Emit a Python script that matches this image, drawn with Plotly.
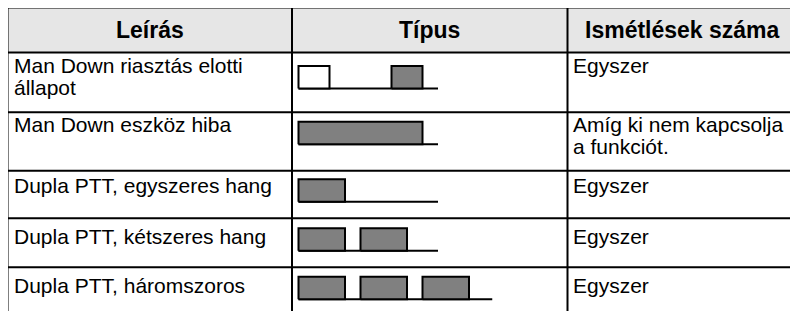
import plotly.graph_objects as go

# ---------------- data ----------------
headers = ["Leírás", "Típus", "Ismétlések száma"]
descriptions = [
    "Man Down riasztás elotti\nállapot",
    "Man Down eszköz hiba",
    "Dupla PTT, egyszeres hang",
    "Dupla PTT, kétszeres hang",
    "Dupla PTT, háromszoros",
]
repetitions = [
    "Egyszer",
    "Amíg ki nem kapcsolja\na funkciót.",
    "Egyszer",
    "Egyszer",
    "Egyszer",
]
# tone patterns (time units): start / end of each tone segment and whether it sounds
tone_starts = [[0, 6], [0], [0], [0, 4], [0, 4, 8]]
tone_ends = [[2, 8], [8], [3], [3, 7], [3, 7, 11]]
tone_on = [[False, True], [True], [True], [True, True], [True, True, True]]
timeline_end = [9, 9, 9, 9, 12.5]

# ---------------- layout constants ----------------
W, H = 798, 311
OFF = 8  # page body margin
col_x = [7.5, 292, 567.5, 800]
row_y = [7.5, 52.5, 112.3, 170.7, 218.3, 267.3, 316]
text_pad = [4.5, 3.7, 6.6, 9.5, 9.4]      # cap-top below row line
pulse_pad = [13.5, 9.4, 8.6, 10.0, 9.4]   # pulse top below row line
pulse_h = 22.5
line_gap = 21.5
FS = 21
HFS = 23
FONT = "Liberation Sans, Arial, sans-serif"
GRAY = "#808080"
px_per_unit = 15.5
t_origin = 298.5

fig = go.Figure()

for r in range(len(descriptions)):
    top = row_y[r + 1] + pulse_pad[r]
    base = top + pulse_h
    fig.add_trace(go.Scatter(x=[0, timeline_end[r]], y=[base, base], mode="lines",
                             line=dict(color="black", width=2), xaxis="x2", yaxis="y",
                             hoverinfo="skip", showlegend=False))
    for s, e, on in zip(tone_starts[r], tone_ends[r], tone_on[r]):
        fig.add_trace(go.Scatter(x=[s, e, e, s, s], y=[base, base, top, top, base],
                                 mode="lines", fill="toself",
                                 fillcolor=GRAY if on else "white",
                                 line=dict(color="black", width=2),
                                 xaxis="x2", yaxis="y", hoverinfo="skip", showlegend=False))

shapes = []
shapes.append(dict(type="rect", xref="x", yref="y", x0=col_x[0], x1=col_x[-1],
                   y0=row_y[0], y1=row_y[1], fillcolor="#e6e6e6", line=dict(width=0),
                   layer="below"))
for y in row_y:
    shapes.append(dict(type="line", xref="x", yref="y", x0=col_x[0] - 1, x1=col_x[-1],
                       y0=y, y1=y, line=dict(color="black", width=2)))
for x in col_x:
    shapes.append(dict(type="line", xref="x", yref="y", x0=x, x1=x,
                       y0=row_y[0], y1=row_y[-1], line=dict(color="black", width=2)))

ann = []
for i, h in enumerate(headers):
    ann.append(dict(x=(col_x[i] + col_x[i + 1]) / 2 - (1 if i == 2 else 0),
                    y=(row_y[0] + row_y[1]) / 2,
                    xref="x", yref="y", text=h, showarrow=False,
                    xanchor="center", yanchor="middle",
                    font=dict(family=FONT, size=HFS, color="black", weight="bold")))

asc_gap = 0.189 * FS + 1
for r in range(len(descriptions)):
    cap_top = row_y[r + 1] + text_pad[r]
    for txt, x in ((descriptions[r], col_x[0] + 4), (repetitions[r], col_x[2] + 3)):
        for k, line in enumerate(txt.split("\n")):
            ann.append(dict(x=x, y=cap_top - asc_gap + k * line_gap, xref="x", yref="y",
                            text=line, showarrow=False, xanchor="left", yanchor="top",
                            align="left", font=dict(family=FONT, size=FS, color="black")))

fig.update_layout(
    width=W, height=H, margin=dict(l=0, r=0, t=0, b=0),
    paper_bgcolor="white", plot_bgcolor="white",
    xaxis=dict(range=[OFF, W + OFF], visible=False, fixedrange=True),
    xaxis2=dict(range=[(OFF - t_origin) / px_per_unit, (W + OFF - t_origin) / px_per_unit],
                overlaying="x", visible=False, fixedrange=True),
    yaxis=dict(range=[H + OFF, OFF], visible=False, fixedrange=True),
    shapes=shapes, annotations=ann, showlegend=False,
)

fig.write_html("out.html")
